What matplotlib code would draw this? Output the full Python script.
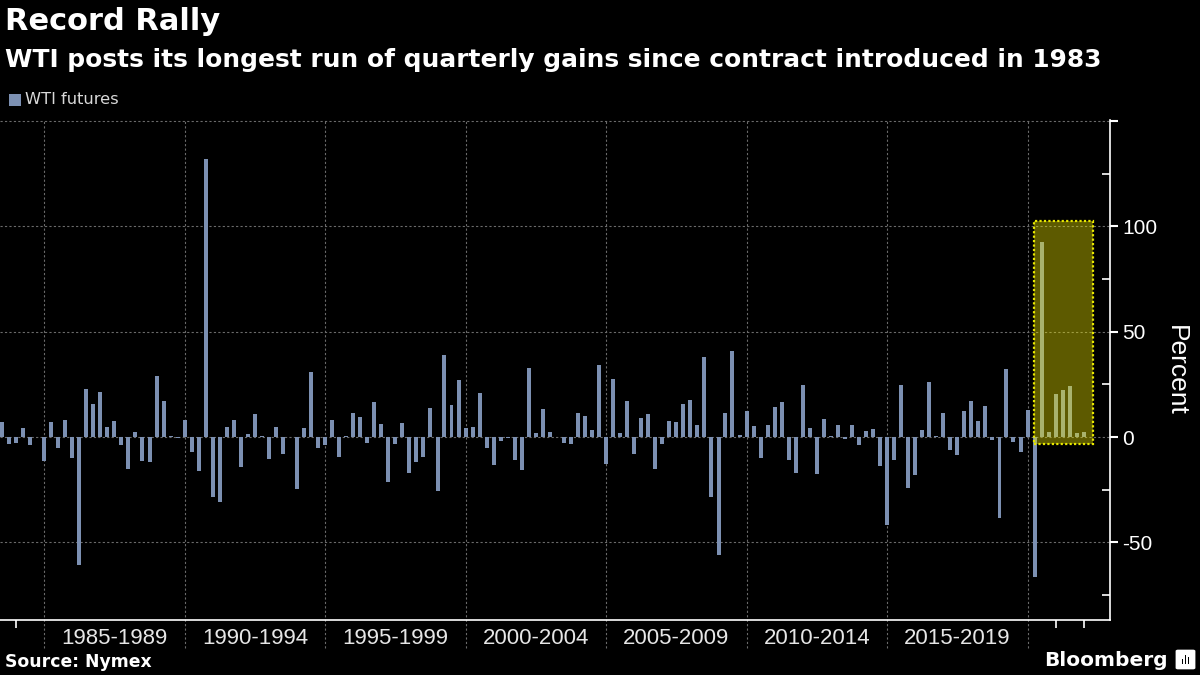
import numpy as np
import pandas as pd
import matplotlib
matplotlib.use("Agg")
import matplotlib.pyplot as plt
from matplotlib.patches import Rectangle, FancyBboxPatch

plt.rcParams['axes.unicode_minus'] = False

# quarterly % change of WTI front-month futures, 1983 Q2 .. 2021 Q4
quarters = pd.period_range('1983Q2', '2021Q4', freq='Q')
pct_1983_84 = [7.1, -3.3, -2.7, 4.4, -3.8, 0.2, -11.4]
pct_1985_89 = [7.1, -5.1, 8.1, -10.0, -60.7, 22.7, 15.6, 21.3, 4.7, 7.6,
               -3.8, -15.2, 2.4, -11.4, -11.8, 28.9, 17.1, 0.6, -0.6, 8.1]
pct_1990_94 = [-7.0, -16.0, 131.8, -28.3, -31.0, 4.7, 8.1, -14.1, 1.4, 10.9,
               0.6, -10.4, 4.7, -8.1, -0.2, -24.5, 4.3, 30.8, -5.1, -3.8]
pct_1995_99 = [8.1, -9.3, 0.6, 11.4, 9.5, -2.7, 16.6, 6.2, -21.3, -3.2,
               6.6, -17.1, -11.8, -9.3, 13.7, -25.6, 38.9, 15.2, 27.0, 4.4]
pct_2000_04 = [4.7, 20.9, -5.1, -13.3, -1.9, -0.3, -10.9, -15.6, 32.7, 1.9,
               13.3, 2.4, 0.2, -2.7, -3.3, 11.4, 10.0, 3.3, 34.1, -12.8]
pct_2005_09 = [27.5, 1.9, 17.1, -8.1, 9.0, 10.9, -15.2, -3.3, 7.6, 7.1,
               15.6, 17.5, 5.7, 37.9, -28.4, -55.9, 11.4, 40.8, 0.9, 12.3]
pct_2010_14 = [5.2, -10.0, 5.7, 14.2, 16.6, -10.9, -17.1, 24.6, 4.4, -17.5,
               8.7, 0.3, 5.7, -0.8, 5.7, -3.8, 2.8, 3.8, -13.7, -41.7]
pct_2015_19 = [-10.9, 24.6, -24.2, -17.9, 3.5, 26.3, 0.3, 11.6, -6.0, -8.7,
               12.5, 17.2, 7.8, 14.6, -1.3, -38.3, 32.4, -2.5, -7.3, 13.0]
pct_2020_21 = [-66.6, 92.4, 2.5, 20.6, 22.2, 24.4, 2.1, 2.5]

values = (pct_1983_84 + pct_1985_89 + pct_1990_94 + pct_1995_99 + pct_2000_04
          + pct_2005_09 + pct_2010_14 + pct_2015_19 + pct_2020_21)

group_starts = [1985, 1990, 1995, 2000, 2005, 2010, 2015, 2020]
group_labels = ['1985-1989', '1990-1994', '1995-1999', '2000-2004',
                '2005-2009', '2010-2014', '2015-2019', '']
year_ticks = [1984, 2021, 2022]

# highlighted streak (decimal years / percent)
box_x = (2020.235, 2022.31)
box_y = (-3.4, 102.3)

bar_color = '#7c90b2'
grid_color = '#6a6a6a'
num_font = ['Liberation Sans', 'DejaVu Sans']


def to_year(p):
    t = p.end_time
    return t.year + (t.dayofyear - 1) / (366 if t.is_leap_year else 365)


xs = np.array([to_year(q) for q in quarters])

fig = plt.figure(figsize=(12, 6.75), dpi=100, facecolor='black')
ax = fig.add_axes([0, 55 / 675, 1110 / 1200, 500 / 675])
ax.set_facecolor('black')

ax.bar(xs, values, width=0.142, color=bar_color, zorder=2)

ax.set_xlim(1983.424, 2022.93)
ax.set_ylim(-86.8, 150.4)

# highlight box
ax.add_patch(Rectangle((box_x[0], box_y[0]), box_x[1] - box_x[0], box_y[1] - box_y[0],
                       facecolor='#f5ee00', alpha=0.38, edgecolor='none', zorder=3))
ax.add_patch(Rectangle((box_x[0], box_y[0]), box_x[1] - box_x[0], box_y[1] - box_y[0],
                       facecolor='none', edgecolor='#e8e800', linestyle=(0, (1, 1)),
                       linewidth=1.6, zorder=4))

# gridlines
for y in [-50, 0, 50, 100, 150]:
    ax.axhline(y, color=grid_color, linestyle=(0, (2, 2)), linewidth=0.8, zorder=1)
for x in group_starts:
    ax.axvline(x, ymin=-0.055, ymax=1, color=grid_color, linestyle=(0, (2, 2)),
               linewidth=0.8, zorder=1, clip_on=False)

# spines
for s in ['top', 'left']:
    ax.spines[s].set_visible(False)
for s in ['right', 'bottom']:
    ax.spines[s].set_color('white')
    ax.spines[s].set_linewidth(1.2)

# y axis on the right
ax.yaxis.tick_right()
ax.yaxis.set_label_position('right')
ax.set_yticks([-50, 0, 50, 100, 150])
ax.set_yticklabels(['-50', '0', '50', '100', ''])
ax.set_yticks([-75, -25, 25, 75, 125], minor=True)
ax.tick_params(axis='y', which='major', direction='out', length=6, width=1.5,
               color='white', labelcolor='white', labelsize=15, pad=3)
ax.tick_params(axis='y', which='minor', direction='in', length=6, width=1.2,
               color='white')
for t in ax.get_yticklabels():
    t.set_family(num_font)
ax.set_ylabel('Percent', rotation=-90, color='white', fontsize=19,
              family=num_font, labelpad=22)

# x axis: group labels centred in each 5-year block
centers = [g + 2.5 for g in group_starts]
ax.set_xticks(centers)
ax.set_xticklabels(group_labels)
ax.set_xticks(year_ticks, minor=True)
ax.tick_params(axis='x', which='major', length=0, labelcolor='#e6e6e6',
               labelsize=16, pad=6)
ax.tick_params(axis='x', which='minor', direction='out', length=6, width=1.2,
               color='white')
for t in ax.get_xticklabels():
    t.set_family(num_font)

# titles
fig.text(5 / 1200, 1 - 21 / 675, 'Record Rally', color='white', fontsize=22,
         fontweight='bold', va='center', ha='left')
fig.text(5 / 1200, 1 - 60 / 675,
         'WTI posts its longest run of quarterly gains since contract introduced in 1983',
         color='white', fontsize=17.9, fontweight='bold', va='center', ha='left')

# legend
fig.patches.append(Rectangle((9 / 1200, 1 - 106 / 675), 12 / 1200, 12 / 675,
                             transform=fig.transFigure, facecolor=bar_color,
                             edgecolor='none'))
fig.text(25 / 1200, 1 - 100 / 675, 'WTI futures', color='#d9d9d9', fontsize=11.7,
         va='center', ha='left')

# footer
fig.text(5 / 1200, 1 - 662 / 675, 'Source: Nymex', color='white', fontsize=12.4,
         fontweight='bold', va='center', ha='left')
fig.text(1168 / 1200, 1 - 660 / 675, 'Bloomberg', color='white', fontsize=14.5,
         fontweight='bold', va='center', ha='right')
fig.patches.append(FancyBboxPatch((1178 / 1200, 1 - 668 / 675), 15 / 1200, 17 / 675,
                                  boxstyle='round,pad=0.002', transform=fig.transFigure,
                                  facecolor='white', edgecolor='none'))
for i, h in enumerate([5, 9, 7]):
    fig.patches.append(Rectangle(((1181.5 + 3 * i) / 1200, 1 - 664 / 675), 1.6 / 1200,
                                 h / 675, transform=fig.transFigure,
                                 facecolor='black', edgecolor='none'))

fig.savefig('out.png', dpi=100, facecolor='black')
